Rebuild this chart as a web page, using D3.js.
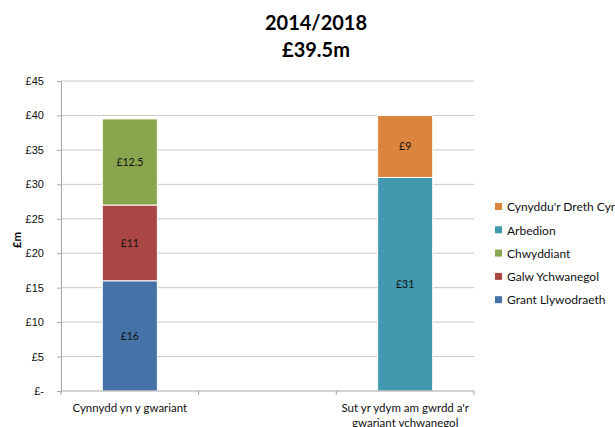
<!DOCTYPE html>
<html>
<head>
<meta charset="utf-8">
<script src="https://cdn.jsdelivr.net/npm/d3@7"></script>
<style>
  body { margin: 0; background: #fff; }
  svg { font-family: Lato, "Open Sans", sans-serif; }
</style>
</head>
<body>
<svg id="chart" width="615" height="427"></svg>
<script>
const categories = ["Cynnydd yn y gwariant", "", "Sut yr ydym am gwrdd a'r gwariant ychwanegol"];
const seriesNames = ["Grant Llywodraeth", "Galw Ychwanegol", "Chwyddiant", "Arbedion", "Cynyddu'r Dreth Cyngor"];
const grantLlywodraeth = [16, 0, 0];
const galwYchwanegol = [11, 0, 0];
const chwyddiant = [12.5, 0, 0];
const arbedion = [0, 0, 31];
const cynydduDreth = [0, 0, 9];
const yTicks = [0, 5, 10, 15, 20, 25, 30, 35, 40, 45];
const colors = ["#4572a7", "#aa4643", "#89a54e", "#4198af", "#db843d"];

const svg = d3.select("#chart");
const margin = { top: 81, left: 61, right: 141, bottom: 36 };
const width = 615 - margin.left - margin.right;
const height = 427 - margin.top - margin.bottom;

// table for stacking
const table = categories.map((c, i) => ({
    cat: c,
    "Grant Llywodraeth": grantLlywodraeth[i],
    "Galw Ychwanegol": galwYchwanegol[i],
    "Chwyddiant": chwyddiant[i],
    "Arbedion": arbedion[i],
    "Cynyddu'r Dreth Cyngor": cynydduDreth[i]
}));
const stacked = d3.stack().keys(seriesNames)(table);

const x = d3.scaleBand().domain(categories).range([0, width]).paddingInner(0.6).paddingOuter(0.3);
const xEdge = d3.scaleBand().domain(categories).range([0, width]);
const y = d3.scaleLinear().domain([0, 45]).range([height, 0]);
const color = d3.scaleOrdinal().domain(seriesNames).range(colors);

const g = svg.append("g").attr("transform", `translate(${margin.left},${margin.top})`);

// gridlines
g.selectAll(".grid")
    .data(yTicks.slice(1))
    .enter()
    .append("line")
    .attr("x1", 0).attr("x2", width)
    .attr("y1", d => y(d)).attr("y2", d => y(d))
    .attr("stroke", "#c8c8c8").attr("stroke-width", 1);

// bars
const layer = g.selectAll(".layer")
    .data(stacked)
    .enter()
    .append("g")
    .attr("fill", d => color(d.key));

layer.selectAll("rect")
    .data(d => d.filter(p => p[1] - p[0] > 0).map(p => ({ p, key: d.key })))
    .enter()
    .append("rect")
    .attr("x", d => x(d.p.data.cat))
    .attr("y", d => y(d.p[1]))
    .attr("width", x.bandwidth())
    .attr("height", d => y(d.p[0]) - y(d.p[1]))
    .attr("stroke", "#fff")
    .attr("stroke-width", 1);

// value labels
layer.selectAll("text")
    .data(d => d.filter(p => p[1] - p[0] > 0))
    .enter()
    .append("text")
    .attr("x", d => x(d.data.cat) + x.bandwidth() / 2)
    .attr("y", d => y((d[0] + d[1]) / 2))
    .attr("dy", "0.35em")
    .attr("text-anchor", "middle")
    .attr("fill", "#111")
    .style("font-size", "10.5px")
    .text(d => "£" + (d[1] - d[0]));

// y axis
const yAxis = g.append("g")
    .call(d3.axisLeft(y).tickValues(yTicks).tickSize(4).tickPadding(12)
        .tickFormat(d => d === 0 ? "£-" : "£" + d));
yAxis.select(".domain").attr("stroke", "#a6a6a6");
yAxis.selectAll(".tick line").attr("stroke", "#a6a6a6");
yAxis.selectAll("text").style("font-size", "11px").attr("fill", "#111").attr("dx", "-0.1em");

// x axis
const xAxis = g.append("g").attr("transform", `translate(0,${height})`);
xAxis.append("line").attr("x1", 0).attr("x2", width).attr("stroke", "#a6a6a6");
xAxis.selectAll(".xt")
    .data(categories.map((c, i) => i).concat([categories.length]))
    .enter()
    .append("line")
    .attr("x1", i => i * xEdge.step()).attr("x2", i => i * xEdge.step())
    .attr("y1", 0).attr("y2", 4)
    .attr("stroke", "#a6a6a6");

const xLabels = [["Cynnydd yn y gwariant"], [], ["Sut yr ydym am gwrdd a'r", "gwariant ychwanegol"]];
xAxis.selectAll(".xl")
    .data(categories)
    .enter()
    .append("text")
    .attr("x", d => xEdge(d) + xEdge.bandwidth() / 2)
    .attr("y", 21)
    .attr("text-anchor", "middle")
    .attr("fill", "#111")
    .style("font-size", "11.5px")
    .each(function(d, i) {
        d3.select(this).selectAll("tspan")
            .data(xLabels[i])
            .enter()
            .append("tspan")
            .attr("x", xEdge(d) + xEdge.bandwidth() / 2)
            .attr("dy", (t, j) => j === 0 ? 0 : "1.3em")
            .text(t => t);
    });

// y axis title
svg.append("text")
    .attr("transform", "translate(21,240) rotate(-90)")
    .attr("text-anchor", "middle")
    .style("font-size", "11.5px")
    .style("font-weight", "bold")
    .text("£m");

// title
svg.append("text")
    .attr("x", 316).attr("y", 30)
    .attr("text-anchor", "middle")
    .style("font-size", "20px").style("font-weight", "bold")
    .text("2014/2018");
svg.append("text")
    .attr("x", 316).attr("y", 57)
    .attr("text-anchor", "middle")
    .style("font-size", "20px").style("font-weight", "bold")
    .text("£39.5m");

// legend (reverse order, top to bottom)
const legend = svg.append("g").attr("transform", "translate(495,207)");
const legendItems = legend.selectAll(".li")
    .data(seriesNames.slice().reverse())
    .enter()
    .append("g")
    .attr("transform", (d, i) => `translate(0,${i * 23.3})`);
legendItems.append("rect")
    .attr("x", 0).attr("y", -4).attr("width", 7).attr("height", 7)
    .attr("fill", d => color(d));
legendItems.append("text")
    .attr("x", 12).attr("dy", "0.35em")
    .attr("fill", "#111")
    .style("font-size", "12px")
    .text(d => d);
</script>
</body>
</html>
